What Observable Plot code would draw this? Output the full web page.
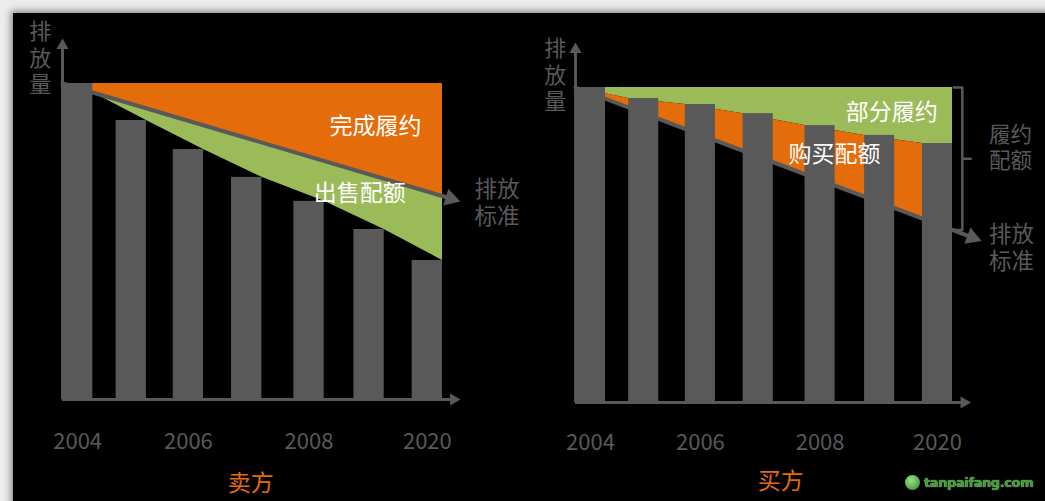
<!DOCTYPE html>
<html><head><meta charset="utf-8">
<script src="https://cdn.jsdelivr.net/npm/d3@7"></script>
<script src="https://cdn.jsdelivr.net/npm/@observablehq/plot@0.6"></script>
<style>
html,body{margin:0;padding:0;width:1045px;height:501px;overflow:hidden;background:#ececec;}
#frame{position:absolute;left:13px;top:13px;width:1100px;height:560px;background:#000;box-shadow:0 0 7px 2px rgba(0,0,0,0.45);}
#left,#right{position:absolute;top:0;height:501px;}
#left{left:0;width:520px}
#right{left:520px;width:525px}
#wm{position:absolute;left:905px;top:473px;height:18px;display:flex;align-items:center;gap:4px;}
#wm .ic{width:15px;height:15px;border-radius:50%;background:radial-gradient(circle at 40% 35%,#9be08a,#2f8a2a);}
#wm .tx{font:bold 13px "DejaVu Sans",sans-serif;color:#3d9e34;letter-spacing:-0.4px;text-shadow:0 0 1px #cfe9c8;white-space:nowrap;}
</style></head><body>
<div id="frame"></div>
<div id="left"></div><div id="right"></div>
<div id="wm"><div class="ic"></div><div class="tx">tanpaifang.com</div></div>
<script>
// ---------- data ----------
const barPos = [0, 0.92, 1.9, 2.9, 3.97, 5.0, 6.0];          // x of each bar (period)
const yearLabels = ["2004", "2006", "2008", "2020"];
const yearBars = [0, 2, 4, 6];
const cap = 100;                                               // initial emission level
const sellerEmission = [100, 88.3, 79.1, 70.3, 62.7, 53.8, 44.0];
const sellerStandard = [100, 63.6];                            // standard line start / end
const buyerEmission = [100, 96.5, 94.6, 91.7, 87.9, 84.8, 82.2];
const buyerStandard = [100, 52.4];

// ---------- style ----------
const orange = "#E46C0A", green = "#9BBB59", gray = "#595959";
const font = "'Noto Sans CJK SC','Noto Sans',sans-serif";
const bw = 0.52;
const xMax = barPos[barPos.length - 1] + bw;

function panel({width, xRange, yRange, emission, standard, stdEndX, axisTop, axisRight, areas, labels, title, titleAt, yLabelAt, yearY}) {
  const std = d3.scaleLinear().domain([0, stdEndX]).range(standard);
  const pxX = (xRange[1] - xRange[0]) / xMax, pxY = (yRange[0] - yRange[1]) / 100;
  const ang = Math.atan(((standard[0] - standard[1]) * pxY) / (stdEndX * pxX)) * 180 / Math.PI;
  const marks = [
    ...areas(std),
    Plot.line([0, stdEndX], {x: d => d, y: d => std(d), stroke: gray, strokeWidth: 4}),
    Plot.dot([stdEndX], {x: d => d, y: d => std(d), symbol: "triangle", r: 6.5, fill: gray, rotate: 90 + ang}),
    Plot.rect(barPos, {x1: d => d, x2: d => d + bw, y1: 0, y2: (d, i) => emission[i], fill: gray}),
    Plot.ruleX([0], {x: d => d, y1: 0, y2: axisTop, stroke: gray, strokeWidth: 3}),
    Plot.dot([0], {x: d => d, y: axisTop, symbol: "triangle", r: 4.5, fill: gray}),
    Plot.ruleY([0], {y: d => d, x1: 0, x2: axisRight, stroke: gray, strokeWidth: 3}),
    Plot.dot([0], {x: axisRight, y: d => d, symbol: "triangle", r: 4.5, fill: gray, rotate: 90}),
    Plot.text(yearLabels, {x: (d, i) => barPos[yearBars[i]] + bw / 2, y: yearY, text: d => d, fill: gray, fontSize: 22, fontFamily: font}),
    Plot.text(["排\n放\n量"], {x: yLabelAt[0], y: yLabelAt[1], text: d => d, fill: gray, fontSize: 22, lineHeight: 1.22, fontFamily: font}),
    Plot.text([title], {x: titleAt[0], y: titleAt[1], text: d => d, fill: orange, fontSize: 23, fontFamily: font}),
    ...labels(std)
  ];
  return Plot.plot({
    width, height: 501, margin: 0,
    style: {background: "transparent", overflow: "visible", fontFamily: font},
    x: {type: "linear", domain: [0, xMax], range: xRange, axis: null},
    y: {type: "linear", domain: [0, 100], range: yRange, axis: null},
    marks
  });
}

// ---------- seller (卖方) ----------
document.getElementById("left").append(panel({
  width: 520, xRange: [62, 442], yRange: [399, 83],
  emission: sellerEmission, standard: sellerStandard, stdEndX: 6.66,
  axisTop: 112, axisRight: 6.71, yearY: -13.5,
  title: "卖方", titleAt: [3.23, -26.6], yLabelAt: [-0.38, 108.4],
  areas: std => [
    Plot.areaY([0, xMax], {x: d => d, y1: cap, y2: d => std(d), fill: orange}),
    Plot.areaY(barPos.map((p, i) => ({x: p + bw, a: std(p + bw), b: Math.min(sellerEmission[i], std(p + bw))})),
      {x: "x", y1: "a", y2: "b", fill: green})
  ],
  labels: std => [
    Plot.text(["完成履约"], {x: 5.37, y: 86.4, text: d => d, fill: "#fff", fontSize: 23, fontFamily: font}),
    Plot.text(["出售配额"], {x: 5.10, y: 65.2, text: d => d, fill: "#fff", fontSize: 23, fontFamily: font}),
    Plot.text(["排放\n标准"], {x: 7.07, y: 62.5, text: d => d, fill: gray, fontSize: 22.5, lineHeight: 1.2, textAnchor: "start", fontFamily: font})
  ]
}));

// ---------- buyer (买方) ----------
document.getElementById("right").append(panel({
  width: 525, xRange: [55, 432], yRange: [402, 87],
  emission: buyerEmission, standard: buyerStandard, stdEndX: 6.86,
  axisTop: 112.1, axisRight: 6.72, yearY: -12.9,
  title: "买方", titleAt: [3.55, -25.1], yLabelAt: [-0.35, 104.3],
  areas: std => {
    const pts = barPos.map((p, i) => ({x: p, e: buyerEmission[i]}));
    pts.push({x: xMax, e: buyerEmission[buyerEmission.length - 1]});
    return [
      Plot.areaY(pts, {x: "x", y1: cap, y2: "e", fill: green}),
      Plot.areaY(pts, {x: "x", y1: "e", y2: d => std(d.x), fill: orange})
    ];
  },
  labels: std => {
    const low = std(xMax), mid = (cap + low) / 2;
    return [
      Plot.line([[6.54, cap], [6.69, cap], [6.69, low], [6.55, low]], {x: d => d[0], y: d => d[1], stroke: gray, strokeWidth: 2.5}),
      Plot.ruleY([mid], {y: d => d, x1: 6.69, x2: 6.86, stroke: gray, strokeWidth: 2.5}),
      Plot.text(["部分履约"], {x: 5.47, y: 92.1, text: d => d, fill: "#fff", fontSize: 23, fontFamily: font}),
      Plot.text(["购买配额"], {x: 4.48, y: 78.7, text: d => d, fill: "#fff", fontSize: 23, fontFamily: font}),
      Plot.text(["履约\n配额"], {x: 7.15, y: 81.3, text: d => d, fill: gray, fontSize: 21.5, lineHeight: 1.21, textAnchor: "start", fontFamily: font}),
      Plot.text(["排放\n标准"], {x: 7.15, y: 49.4, text: d => d, fill: gray, fontSize: 22.5, lineHeight: 1.2, textAnchor: "start", fontFamily: font})
    ];
  }
}));
</script>
</body></html>
